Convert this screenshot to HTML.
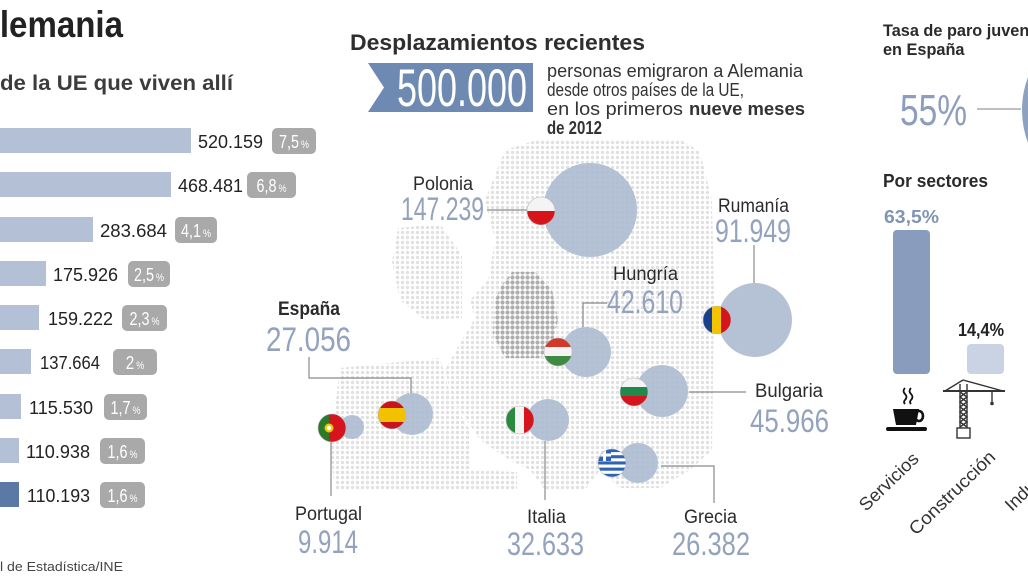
<!DOCTYPE html>
<html><head><meta charset="utf-8">
<style>
html,body{margin:0;padding:0;background:#fff;width:1028px;height:578px;overflow:hidden}
svg{display:block}
text{font-family:"Liberation Sans",sans-serif}
</style></head>
<body>
<svg width="1028" height="578" viewBox="0 0 1028 578" xmlns="http://www.w3.org/2000/svg">
<defs>
  <pattern id="dl" width="5" height="5" patternUnits="userSpaceOnUse"><circle cx="2.5" cy="2.5" r="1.7" fill="#e1e1e1"/></pattern>
  <pattern id="dd" width="5" height="5" patternUnits="userSpaceOnUse"><circle cx="2.5" cy="2.5" r="2.1" fill="#adadad"/></pattern>
  <clipPath id="cPL"><circle cx="541" cy="211" r="14"/></clipPath>
  <clipPath id="cRO"><circle cx="717" cy="320" r="14"/></clipPath>
  <clipPath id="cHU"><circle cx="558" cy="352" r="14"/></clipPath>
  <clipPath id="cBG"><circle cx="634" cy="392" r="14"/></clipPath>
  <clipPath id="cES"><circle cx="392" cy="415" r="14"/></clipPath>
  <clipPath id="cPT"><circle cx="332" cy="428" r="14"/></clipPath>
  <clipPath id="cIT"><circle cx="520" cy="420" r="14"/></clipPath>
  <clipPath id="cGR"><circle cx="612" cy="463" r="14"/></clipPath>
</defs>

<!-- LEFT PANEL -->
<text x="-24" y="37" font-size="37" font-weight="bold" fill="#222" textLength="147" lengthAdjust="spacingAndGlyphs">Alemania</text>
<text x="0" y="90" font-size="21" font-weight="bold" fill="#3c3c3c" textLength="233" lengthAdjust="spacingAndGlyphs">de la UE que viven allí</text>

<g fill="#b3c0d6">
  <rect x="0" y="128" width="191" height="25"/>
  <rect x="0" y="172" width="171" height="25"/>
  <rect x="0" y="217" width="93" height="25"/>
  <rect x="0" y="261" width="46" height="25"/>
  <rect x="0" y="305" width="39" height="25"/>
  <rect x="0" y="349" width="31" height="25"/>
  <rect x="0" y="394" width="21" height="25"/>
  <rect x="0" y="438" width="19" height="25"/>
</g>
<rect x="0" y="482" width="19" height="25" fill="#5b79a4"/>

<g font-size="18" fill="#222">
  <text x="198" y="148" textLength="65" lengthAdjust="spacingAndGlyphs">520.159</text>
  <text x="178" y="192" textLength="65" lengthAdjust="spacingAndGlyphs">468.481</text>
  <text x="100" y="237" textLength="67" lengthAdjust="spacingAndGlyphs">283.684</text>
  <text x="53" y="281" textLength="65" lengthAdjust="spacingAndGlyphs">175.926</text>
  <text x="48" y="325" textLength="65" lengthAdjust="spacingAndGlyphs">159.222</text>
  <text x="40" y="369" textLength="60" lengthAdjust="spacingAndGlyphs">137.664</text>
  <text x="29" y="414" textLength="64" lengthAdjust="spacingAndGlyphs">115.530</text>
  <text x="26" y="458" textLength="64" lengthAdjust="spacingAndGlyphs">110.938</text>
  <text x="27" y="502" textLength="63" lengthAdjust="spacingAndGlyphs">110.193</text>
</g>

<g fill="#a9a9a9">
  <rect x="272" y="128" width="44" height="26" rx="5"/>
  <rect x="247" y="172" width="49" height="26" rx="5"/>
  <rect x="175" y="217" width="42" height="26" rx="5"/>
  <rect x="128" y="261" width="42" height="26" rx="5"/>
  <rect x="122" y="305" width="45" height="26" rx="5"/>
  <rect x="113" y="349" width="44" height="26" rx="5"/>
  <rect x="104" y="394" width="43" height="26" rx="5"/>
  <rect x="100" y="438" width="45" height="26" rx="5"/>
  <rect x="100" y="482" width="45" height="26" rx="5"/>
</g>
<g fill="#fff" font-size="18">
  <text x="279" y="148" textLength="20" lengthAdjust="spacingAndGlyphs">7,5</text>
  <text x="256.5" y="192" textLength="20" lengthAdjust="spacingAndGlyphs">6,8</text>
  <text x="181" y="237" textLength="20" lengthAdjust="spacingAndGlyphs">4,1</text>
  <text x="134" y="281" textLength="20" lengthAdjust="spacingAndGlyphs">2,5</text>
  <text x="129.5" y="325" textLength="20" lengthAdjust="spacingAndGlyphs">2,3</text>
  <text x="125.75" y="369" textLength="8.5" lengthAdjust="spacingAndGlyphs">2</text>
  <text x="110.5" y="414" textLength="20" lengthAdjust="spacingAndGlyphs">1,7</text>
  <text x="107.5" y="458" textLength="20" lengthAdjust="spacingAndGlyphs">1,6</text>
  <text x="107.5" y="502" textLength="20" lengthAdjust="spacingAndGlyphs">1,6</text>
</g>
<g fill="#fff" font-size="11">
  <text x="301" y="148" textLength="8" lengthAdjust="spacingAndGlyphs">%</text>
  <text x="278.5" y="192" textLength="8" lengthAdjust="spacingAndGlyphs">%</text>
  <text x="203" y="237" textLength="8" lengthAdjust="spacingAndGlyphs">%</text>
  <text x="156" y="281" textLength="8" lengthAdjust="spacingAndGlyphs">%</text>
  <text x="151.5" y="325" textLength="8" lengthAdjust="spacingAndGlyphs">%</text>
  <text x="136.25" y="369" textLength="8" lengthAdjust="spacingAndGlyphs">%</text>
  <text x="132.5" y="414" textLength="8" lengthAdjust="spacingAndGlyphs">%</text>
  <text x="129.5" y="458" textLength="8" lengthAdjust="spacingAndGlyphs">%</text>
  <text x="129.5" y="502" textLength="8" lengthAdjust="spacingAndGlyphs">%</text>
</g>

<text x="0" y="571" font-size="13" fill="#444" textLength="123" lengthAdjust="spacingAndGlyphs">l de Estadística/INE</text>

<!-- CENTER HEADER -->
<text x="350" y="50" font-size="22" font-weight="bold" fill="#2e2e2e" textLength="295" lengthAdjust="spacingAndGlyphs">Desplazamientos recientes</text>
<polygon points="368,63 533,63 533,112 368,112 384,87.5" fill="#6f8ab2"/>
<text x="397" y="106" font-size="53" fill="#fff" textLength="130" lengthAdjust="spacingAndGlyphs">500.000</text>
<g font-size="18.5" fill="#333">
  <text x="547" y="77" textLength="256" lengthAdjust="spacingAndGlyphs">personas emigraron a Alemania</text>
  <text x="547" y="96" textLength="197" lengthAdjust="spacingAndGlyphs">desde otros países de la UE,</text>
  <text x="547" y="115" textLength="136" lengthAdjust="spacingAndGlyphs">en los primeros</text>
  <text x="689" y="115" font-weight="bold" textLength="116" lengthAdjust="spacingAndGlyphs">nueve meses</text>
  <text x="547" y="134" font-weight="bold" textLength="55" lengthAdjust="spacingAndGlyphs">de 2012</text>
</g>

<!-- MAP DOTS -->
<g fill="url(#dl)">
  <path d="M505,150 L540,139 L680,139 L700,152 L712,200 L714,300 L712,450 L690,470 L660,488 L620,488 L600,470 L585,490 L545,490 L530,470 L510,460 L480,440 L470,425 L452,400 L445,370 L462,340 L475,318 L470,300 L488,280 L495,240 L485,200 Z"/>
  <path d="M398,228 L440,224 L462,255 L462,318 L425,320 L400,300 L392,262 Z"/>
  <path d="M340,368 L440,358 L452,400 L470,430 L470,470 L517,472 L517,490 L335,490 L330,450 Z"/>
</g>
<path d="M512,272 L535,272 L552,290 L558,320 L552,345 L540,358 L505,358 L493,335 L495,300 L502,285 Z" fill="url(#dd)"/>

<!-- bubbles -->
<g fill="#adbbd1" fill-opacity="0.9">
  <circle cx="590" cy="210" r="47"/>
  <circle cx="755" cy="320" r="37"/>
  <circle cx="586" cy="352" r="25"/>
  <circle cx="662" cy="391" r="26"/>
  <circle cx="412" cy="414" r="21"/>
  <circle cx="352" cy="427" r="12"/>
  <circle cx="548" cy="420" r="21"/>
  <circle cx="638" cy="463" r="20"/>
</g>

<!-- leader lines -->
<g stroke="#8a8a8a" stroke-width="1.2" fill="none">
  <line x1="487" y1="210" x2="527" y2="210"/>
  <line x1="754" y1="245" x2="754" y2="283"/>
  <polyline points="607,303 583,303 583,327"/>
  <polyline points="309,357 309,378 411,378 411,393"/>
  <line x1="331" y1="442" x2="331" y2="496"/>
  <line x1="545" y1="441" x2="545" y2="500"/>
  <line x1="689" y1="392" x2="746" y2="392"/>
  <polyline points="661,466 714,466 714,503"/>
</g>

<!-- flags -->
<g clip-path="url(#cPL)"><rect x="527" y="197" width="28" height="14" fill="#f4f4f4"/><rect x="527" y="211" width="28" height="14" fill="#d7141a"/></g>
<g clip-path="url(#cRO)"><rect x="703" y="306" width="10" height="28" fill="#1b3f8f"/><rect x="712" y="306" width="10" height="28" fill="#f2c500"/><rect x="721" y="306" width="10" height="28" fill="#d4151e"/></g>
<g clip-path="url(#cHU)"><rect x="544" y="338" width="28" height="10" fill="#d13a2a"/><rect x="544" y="347" width="28" height="10" fill="#f4f4f4"/><rect x="544" y="356" width="28" height="10" fill="#3e8a40"/></g>
<g clip-path="url(#cBG)"><rect x="620" y="378" width="28" height="10" fill="#f4f4f4"/><rect x="620" y="387" width="28" height="10" fill="#1f8a4c"/><rect x="620" y="396" width="28" height="10" fill="#d4151e"/></g>
<g clip-path="url(#cES)"><rect x="378" y="401" width="28" height="28" fill="#c8141c"/><rect x="378" y="408" width="28" height="14" fill="#f2c200"/></g>
<g clip-path="url(#cPT)"><rect x="318" y="414" width="28" height="28" fill="#d4151e"/><rect x="318" y="414" width="11" height="28" fill="#2a7a2a"/><circle cx="329" cy="428" r="4.5" fill="#f0c800"/><circle cx="329" cy="428" r="2.2" fill="#fff"/></g>
<g clip-path="url(#cIT)"><rect x="506" y="406" width="10" height="28" fill="#2a8a3e"/><rect x="515" y="406" width="10" height="28" fill="#f4f4f4"/><rect x="524" y="406" width="10" height="28" fill="#d4151e"/></g>
<g clip-path="url(#cGR)"><rect x="598" y="449" width="28" height="28" fill="#fff"/>
  <rect x="598" y="449" width="28" height="3.1" fill="#2f63b5"/><rect x="598" y="455.2" width="28" height="3.1" fill="#2f63b5"/><rect x="598" y="461.4" width="28" height="3.1" fill="#2f63b5"/><rect x="598" y="467.6" width="28" height="3.1" fill="#2f63b5"/><rect x="598" y="473.8" width="28" height="3.2" fill="#2f63b5"/>
  <rect x="598" y="449" width="13" height="12" fill="#2f63b5"/><rect x="603" y="449" width="3" height="12" fill="#fff"/><rect x="598" y="453.5" width="13" height="3" fill="#fff"/></g>
<g fill="none" stroke="#bbb" stroke-width="0.6">
  <circle cx="541" cy="211" r="14"/><circle cx="717" cy="320" r="14"/><circle cx="558" cy="352" r="14"/><circle cx="634" cy="392" r="14"/><circle cx="392" cy="415" r="14"/><circle cx="332" cy="428" r="14"/><circle cx="520" cy="420" r="14"/><circle cx="612" cy="463" r="14"/>
</g>

<!-- map labels -->
<g font-size="19" fill="#2b2b2b">
  <text x="413" y="190" textLength="60" lengthAdjust="spacingAndGlyphs">Polonia</text>
  <text x="718" y="212" textLength="71" lengthAdjust="spacingAndGlyphs">Rumanía</text>
  <text x="613" y="280" textLength="65" lengthAdjust="spacingAndGlyphs">Hungría</text>
  <text x="278" y="315" font-weight="bold" textLength="62" lengthAdjust="spacingAndGlyphs">España</text>
  <text x="755" y="397" textLength="68" lengthAdjust="spacingAndGlyphs">Bulgaria</text>
  <text x="295" y="520" textLength="67" lengthAdjust="spacingAndGlyphs">Portugal</text>
  <text x="527" y="523" textLength="39" lengthAdjust="spacingAndGlyphs">Italia</text>
  <text x="684" y="523" textLength="53" lengthAdjust="spacingAndGlyphs">Grecia</text>
</g>
<g font-size="32" fill="#93a2bd">
  <text x="401" y="220" textLength="83" lengthAdjust="spacingAndGlyphs">147.239</text>
  <text x="715" y="242" textLength="76" lengthAdjust="spacingAndGlyphs">91.949</text>
  <text x="607" y="313" textLength="76" lengthAdjust="spacingAndGlyphs">42.610</text>
  <text x="266" y="351" font-size="34" textLength="85" lengthAdjust="spacingAndGlyphs">27.056</text>
  <text x="750" y="432" textLength="79" lengthAdjust="spacingAndGlyphs">45.966</text>
  <text x="298" y="553" textLength="60" lengthAdjust="spacingAndGlyphs">9.914</text>
  <text x="507" y="555" textLength="77" lengthAdjust="spacingAndGlyphs">32.633</text>
  <text x="672" y="555" textLength="78" lengthAdjust="spacingAndGlyphs">26.382</text>
</g>

<!-- RIGHT PANEL -->
<text x="883" y="36" font-size="16.3" font-weight="bold" fill="#2a2a2a">Tasa de paro juvenil</text>
<text x="883" y="55" font-size="16.3" font-weight="bold" fill="#2a2a2a">en España</text>
<text x="900" y="125" font-size="44" fill="#8d9dba" textLength="67" lengthAdjust="spacingAndGlyphs">55%</text>
<line x1="977" y1="109" x2="1021" y2="109" stroke="#999" stroke-width="1.2"/>
<circle cx="1116" cy="110" r="94" fill="#8ea1c0"/>

<text x="883" y="187" font-size="18" font-weight="bold" fill="#2a2a2a" textLength="105" lengthAdjust="spacingAndGlyphs">Por sectores</text>
<text x="884" y="223" font-size="18" font-weight="bold" fill="#8094b4" textLength="55" lengthAdjust="spacingAndGlyphs">63,5%</text>
<rect x="893" y="230" width="37" height="144" rx="4" fill="#8a9cbd"/>
<text x="958" y="336" font-size="18" font-weight="bold" fill="#222" textLength="46" lengthAdjust="spacingAndGlyphs">14,4%</text>
<rect x="967" y="344" width="37" height="30" rx="4" fill="#c9d3e4"/>

<!-- coffee icon -->
<g stroke="#111" stroke-width="1.8" fill="none">
  <path d="M905,388 q-3,3 0,6 q3,3 0,6 q-2,2 0,4"/>
  <path d="M911,388 q-3,3 0,6 q3,3 0,6 q-2,2 0,4"/>
  <ellipse cx="919" cy="416" rx="4" ry="5" stroke-width="2.6"/>
</g>
<path d="M893,409 L919,409 L916,425 L896,425 Z" fill="#111"/>
<rect x="886" y="427" width="41" height="4" rx="2" fill="#111"/>

<!-- crane icon -->
<g stroke="#333" stroke-width="1.4" fill="none">
  <line x1="943" y1="391" x2="1005" y2="391" stroke-width="2"/>
  <line x1="963" y1="380" x2="945" y2="391"/>
  <line x1="963" y1="380" x2="1003" y2="391"/>
  <line x1="960" y1="384" x2="960" y2="428"/>
  <line x1="967" y1="384" x2="967" y2="428"/>
  <polyline points="960,392 967,397 960,402 967,407 960,412 967,417 960,422 967,427"/>
  <polyline points="967,392 960,397 967,402 960,407 967,412 960,417 967,422 960,427"/>
  <line x1="992" y1="391" x2="992" y2="402"/>
  <rect x="957" y="428" width="13" height="10" fill="#fff"/>
</g>
<circle cx="992" cy="403.5" r="1.8" fill="#333"/>

<!-- rotated labels -->
<g font-size="18" fill="#333">
  <text transform="translate(866,512) rotate(-44)" textLength="75" lengthAdjust="spacingAndGlyphs">Servicios</text>
  <text transform="translate(916,536) rotate(-44)" textLength="112" lengthAdjust="spacingAndGlyphs">Construcción</text>
  <text transform="translate(1012,512) rotate(-44)">Industria</text>
</g>
</svg>
</body></html>
